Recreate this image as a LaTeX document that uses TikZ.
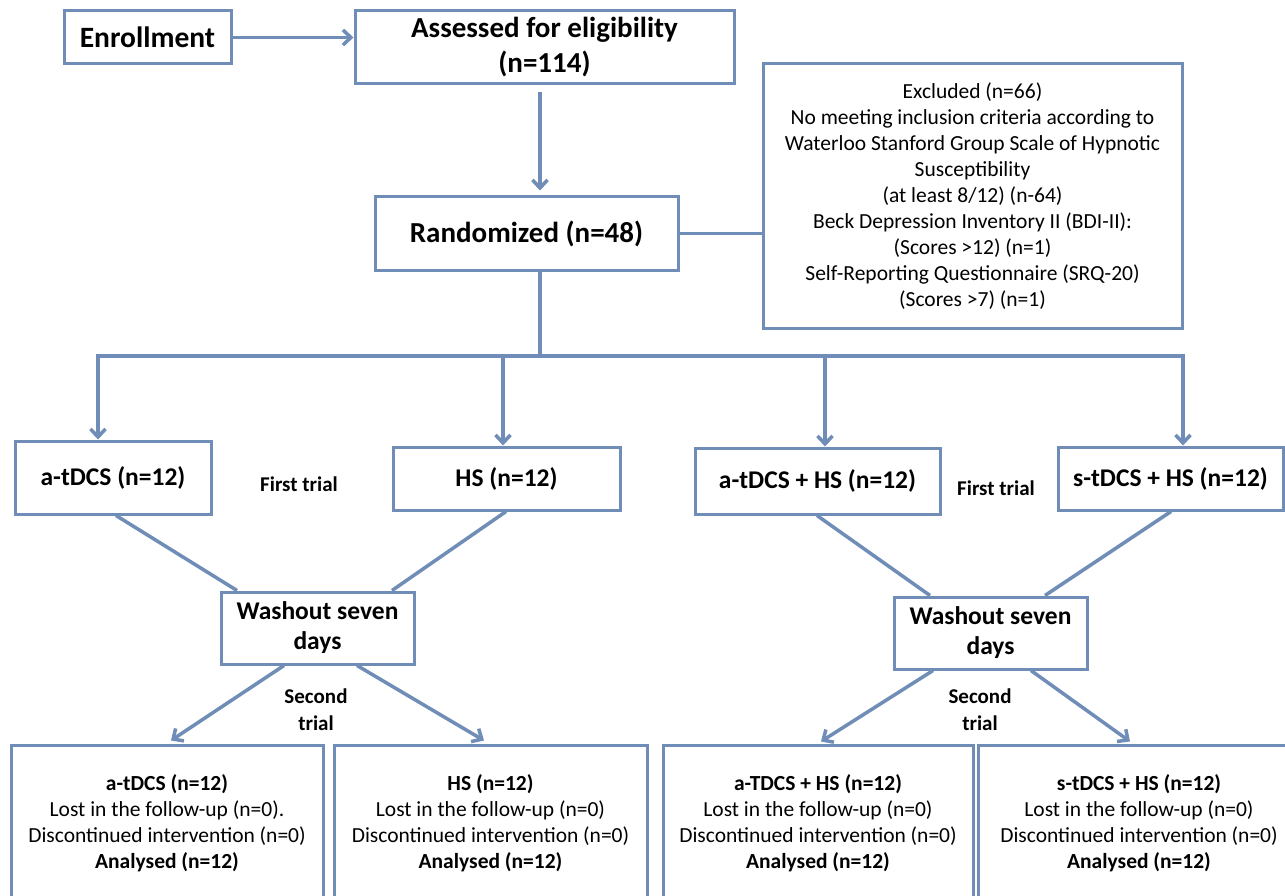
\documentclass[tikz,border=0pt]{standalone}
\usepackage{fontspec}
\setmainfont{Carlito}
\usetikzlibrary{arrows.meta,calc}
\definecolor{lc}{RGB}{111,141,183}
\newcommand\myfEnr{\bfseries\fontsize{29.5}{34}\selectfont}
\newcommand\myfTtl{\bfseries\fontsize{29}{35}\selectfont}
\newcommand\myfGrp{\bfseries\fontsize{25.5}{30}\selectfont}
\newcommand\myfWash{\bfseries\fontsize{25.5}{30}\selectfont}
\newcommand\myfLbl{\bfseries\fontsize{21}{27}\selectfont}
\newcommand\myfExc{\fontsize{21.5}{26}\selectfont}
\newcommand\myfRes{\fontsize{21.5}{26}\selectfont}
\begin{document}
\begin{tikzpicture}[x=1pt,y=-1pt,
  bx/.style={draw=lc,line width=3pt,inner sep=0pt,align=center,text=black},
  ln/.style={draw=lc,line width=3.5pt},
  arr/.style={ln,-{Straight Barb[length=8pt,width=15pt]}},
  lbl/.style={align=center,inner sep=0pt,text=black,font=\myfLbl}]
\path[use as bounding box] (0,0) rectangle (1285,896);
\clip (0,0) rectangle (1285,896);
\fill[white] (0,0) rectangle (1285,896);

% nodes
\node[bx,minimum width=167pt,minimum height=53pt,font=\myfEnr] (enr) at (147.5,37.5) {Enrollment};
\node[bx,minimum width=379pt,minimum height=73pt,font=\myfTtl] (ass) at (544.5,47.5) {Assessed for eligibility\\(n=114)};
\node[bx,minimum width=419pt,minimum height=264pt,font=\myfExc] (exc) at (972.5,196) {Excluded (n=66)\\No meeting inclusion criteria according to\\Waterloo Stanford Group Scale of Hypnotic\\Susceptibility\\(at least 8/12) (n-64)\\Beck Depression Inventory II (BDI-II):\\(Scores >12) (n=1)\\Self-Reporting Questionnaire (SRQ-20)\\(Scores >7) (n=1)};
\node[bx,minimum width=303pt,minimum height=73pt,font=\myfTtl] (ran) at (526.5,233.5) {Randomized (n=48)};

\node[bx,minimum width=196pt,minimum height=73pt,font=\myfGrp] (b1) at (113,477.5) {a-tDCS (n=12)};
\node[bx,minimum width=227pt,minimum height=63pt,font=\myfGrp] (b2) at (506.5,478.5) {HS (n=12)};
\node[bx,minimum width=245pt,minimum height=66pt,font=\myfGrp] (b3) at (817.5,481) {a-tDCS + HS (n=12)};
\node[bx,minimum width=225pt,minimum height=63pt,font=\myfGrp] (b4) at (1170.5,478.5) {s-tDCS + HS (n=12)};

\node[lbl] (ft1) at (299,484) {First trial};
\node[lbl] (ft2) at (996,488) {First trial};

\node[bx,minimum width=193pt,minimum height=72pt,font=\myfWash] (w1) at (317.5,628) {Washout seven\\days};
\node[bx,minimum width=193pt,minimum height=72pt,font=\myfWash] (w2) at (990.5,633) {Washout seven\\days};

\node[lbl] (st1) at (316,710) {Second\\trial};
\node[lbl] (st2) at (980,710) {Second\\trial};

\node[bx,minimum width=312pt,minimum height=157pt,font=\myfRes] (c1) at (167,823.5) {\textbf{a-tDCS (n=12)}\\Lost in the follow-up (n=0).\\Discontinued intervention (n=0)\\\textbf{Analysed (n=12)}};
\node[bx,minimum width=313pt,minimum height=157pt,font=\myfRes] (c2) at (490.5,823.5) {\textbf{HS (n=12)}\\Lost in the follow-up (n=0)\\Discontinued intervention (n=0)\\\textbf{Analysed (n=12)}};
\node[bx,minimum width=310pt,minimum height=157pt,font=\myfRes] (c3) at (818,823.5) {\textbf{a-TDCS + HS (n=12)}\\Lost in the follow-up (n=0)\\Discontinued intervention (n=0)\\\textbf{Analysed (n=12)}};
\node[bx,minimum width=322pt,minimum height=157pt,font=\myfRes] (c4) at (1139,823.5) {\textbf{s-tDCS + HS (n=12)}\\Lost in the follow-up (n=0)\\Discontinued intervention (n=0)\\\textbf{Analysed (n=12)}};

% connectors
\draw[arr] (enr.east) -- (enr.east -| ass.west);
\draw[arr] ([xshift=-4.5pt,yshift=-7pt]ass.south) -- ([xshift=13.5pt,yshift=5pt]ran.north);
\draw[ln] (ran.east) -- (ran.east -| exc.west);

\coordinate (hm) at (540,356);
\coordinate (h1) at (98,356);
\coordinate (h2) at (503,356);
\coordinate (h3) at (825,356);
\coordinate (h4) at (1183,356);
\draw[ln] ([xshift=13.5pt]ran.south) -- (hm);
\draw[ln,line cap=rect] (h1) -- (h4);
\draw[arr] (h1) -- (h1 |- b1.north);
\draw[arr] (h2) -- (h2 |- b2.north);
\draw[arr] (h3) -- (h3 |- b3.north);
\draw[arr] (h4) -- (h4 |- b4.north);

\draw[ln] ([xshift=3pt]b1.south) -- ([xshift=-80.5pt]w1.north);
\draw[ln] ([xshift=-0.5pt]b2.south) -- ([xshift=74.5pt]w1.north);
\draw[arr] ([xshift=-33.5pt]w1.south) -- ([xshift=4pt,yshift=3pt]c1.north);
\draw[arr] ([xshift=39.5pt]w1.south) -- ([xshift=-6.5pt,yshift=3pt]c2.north);

\draw[ln] ([xshift=-0.5pt]b3.south) -- ([xshift=-60.5pt]w2.north);
\draw[ln] ([xshift=0.5pt]b4.south) -- ([xshift=54.5pt]w2.north);
\draw[arr] ([xshift=-57.5pt]w2.south) -- ([xshift=3pt,yshift=2pt]c3.north);
\draw[arr] ([xshift=40.5pt]w2.south) -- ([xshift=-9pt,yshift=2pt]c4.north);
\end{tikzpicture}
\end{document}
